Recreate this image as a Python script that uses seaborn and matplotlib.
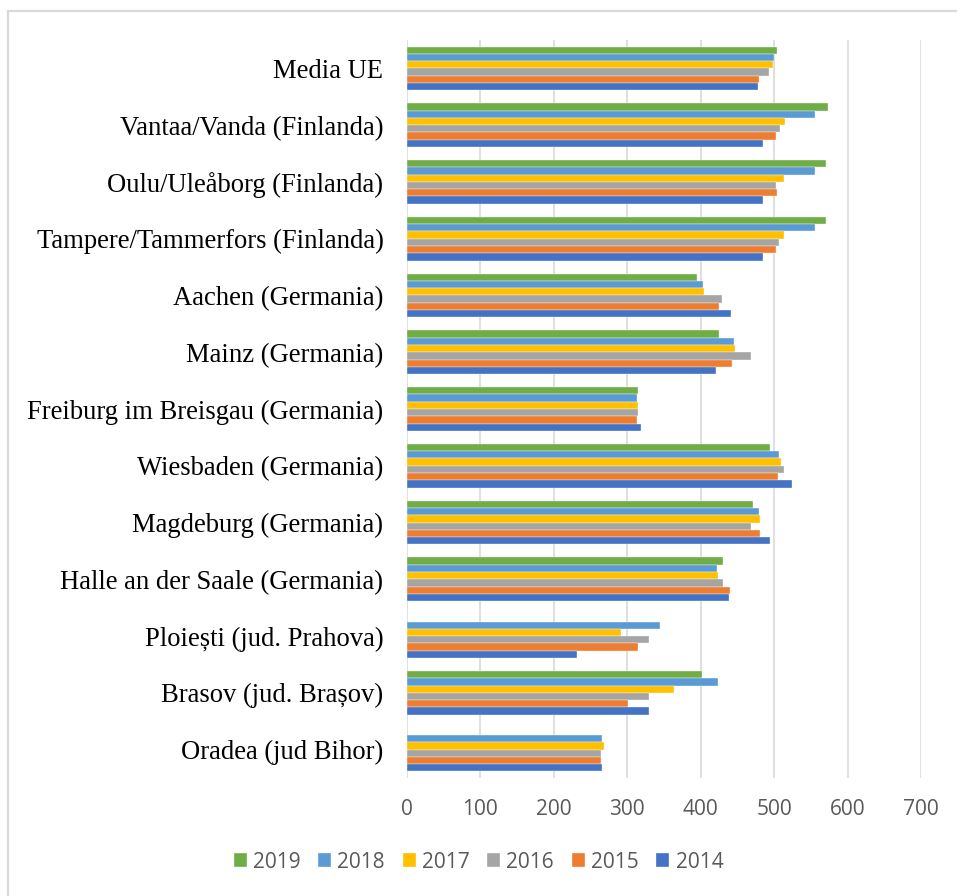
import numpy as np
import pandas as pd
import matplotlib
matplotlib.use("Agg")
import matplotlib.pyplot as plt
from matplotlib.patches import Rectangle
import seaborn as sns

# Cities (top to bottom) and yearly values
cities = [
    "Media UE",
    "Vantaa/Vanda (Finlanda)",
    "Oulu/Uleåborg (Finlanda)",
    "Tampere/Tammerfors (Finlanda)",
    "Aachen (Germania)",
    "Mainz (Germania)",
    "Freiburg im Breisgau (Germania)",
    "Wiesbaden (Germania)",
    "Magdeburg (Germania)",
    "Halle an der Saale (Germania)",
    "Ploiești (jud. Prahova)",
    "Brasov (jud. Brașov)",
    "Oradea (jud Bihor)",
]
years = ["2019", "2018", "2017", "2016", "2015", "2014"]

v2019 = [504, 574, 570, 570, 395, 425, 315, 494, 471, 431, np.nan, 402, np.nan]
v2018 = [500, 556, 555, 556, 403, 445, 313, 506, 480, 422, 345, 423, 265]
v2017 = [499, 515, 514, 513, 405, 447, 314, 509, 481, 424, 292, 363, 268]
v2016 = [493, 508, 503, 506, 429, 469, 314, 514, 468, 431, 329, 329, 264]
v2015 = [480, 503, 504, 502, 425, 442, 313, 505, 481, 440, 315, 301, 264]
v2014 = [478, 485, 485, 485, 441, 421, 319, 524, 494, 438, 231, 329, 266]

colors = ["#70AD47", "#5B9BD5", "#FFC000", "#A5A5A5", "#ED7D31", "#4472C4"]

series = dict(zip(years, [v2019, v2018, v2017, v2016, v2015, v2014]))
df = pd.DataFrame(
    [(c, y, series[y][i]) for y in years for i, c in enumerate(cities)],
    columns=["city", "year", "value"],
)

sns.set_theme(style="white")
fig = plt.figure(figsize=(9.57, 8.96), dpi=100)
ax = fig.add_axes([407 / 957, 1 - 778 / 896, (921 - 407) / 957, (778 - 40) / 896])

sns.barplot(
    data=df, x="value", y="city", hue="year",
    order=cities, hue_order=years, palette=colors, saturation=1,
    orient="h", width=0.77, gap=0, errorbar=None,
    edgecolor="white", linewidth=0.25, ax=ax, legend=True,
)

ax.set_xlim(0, 700)
ax.set_xticks(range(0, 701, 100))
ax.set_ylim(len(cities) - 0.5, -0.5)
ax.set_xlabel("")
ax.set_ylabel("")
for s in ax.spines.values():
    s.set_visible(False)
ax.grid(axis="x", color="#D9D9D9", linewidth=1.2)
ax.grid(axis="y", visible=False)
ax.set_axisbelow(True)

ax.tick_params(axis="x", length=0, pad=15, labelsize=15, labelcolor="#595959")
ax.tick_params(axis="y", length=0, pad=17)
for t in ax.get_xticklabels():
    t.set_fontfamily("Open Sans")
for t in ax.get_yticklabels():
    t.set_fontfamily("Liberation Serif")
    t.set_fontsize(19.2)
    t.set_color("#000000")

handles, labels = ax.get_legend_handles_labels()
ax.legend_.remove()
leg = fig.legend(
    handles, labels, loc="center", bbox_to_anchor=(0.5, 1 - 862 / 896),
    ncol=6, frameon=False, handlelength=0.62, handleheight=0.62,
    handletextpad=0.3, columnspacing=0.85,
    prop={"family": "Open Sans", "size": 15},
)
for t in leg.get_texts():
    t.set_color("#595959")

# Chart-area frame (left and top edges visible)
fig.patches.append(Rectangle((8, -300), 1300, 896 - 11 + 300, transform=None,
                             fill=False, edgecolor="#D9D9D9", linewidth=1.6))

fig.savefig("out.png", dpi=100)
